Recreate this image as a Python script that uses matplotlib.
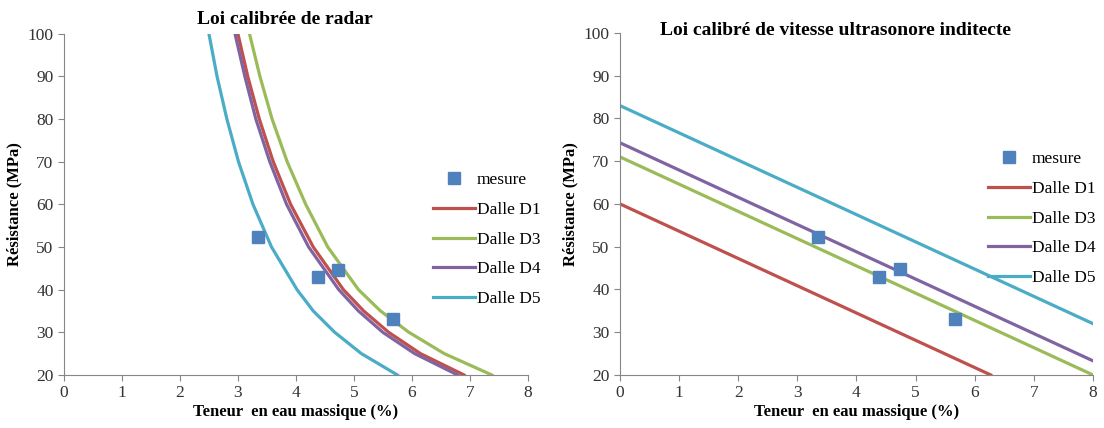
import matplotlib.pyplot as plt

plt.rcParams['font.family'] = ['Liberation Serif', 'DejaVu Serif']

# measurements (water content %, strength MPa)
mes_w = [3.35, 4.38, 4.73, 5.67]
mes_r = [52.3, 43.0, 44.7, 33.0]

# radar law: strength levels and water content per slab
radar_r = [100, 90, 80, 70, 60, 50, 40, 35, 30, 25, 20]
radar_d1 = [3.00, 3.17, 3.37, 3.61, 3.91, 4.30, 4.82, 5.17, 5.60, 6.15, 6.90]
radar_d3 = [3.20, 3.38, 3.59, 3.85, 4.17, 4.55, 5.08, 5.46, 5.95, 6.56, 7.38]
radar_d4 = [2.95, 3.12, 3.31, 3.55, 3.84, 4.22, 4.74, 5.08, 5.50, 6.05, 6.79]
radar_d5 = [2.50, 2.64, 2.81, 3.01, 3.26, 3.58, 4.02, 4.30, 4.67, 5.13, 5.75]

# ultrasonic law: straight lines (w, R)
us_d1_w = [0, 6.27]
us_d1_r = [60.0, 20.0]
us_w = [0, 8]
us_d3 = [71.0, 20.0]
us_d4 = [74.3, 23.3]
us_d5 = [83.0, 32.0]

colors = {'D1': '#C0504D', 'D3': '#9BBB59', 'D4': '#8064A2', 'D5': '#4BACC6'}
blue = '#4F81BD'

fig = plt.figure(figsize=(11.04, 4.28), dpi=100)
ax1 = fig.add_axes([0.058, 0.124, 0.420, 0.797])
ax2 = fig.add_axes([0.5616, 0.124, 0.4284, 0.799])


def style(ax):
    ax.set_xlim(0, 8)
    ax.set_ylim(20, 100)
    ax.set_xticks(range(0, 9))
    ax.set_yticks(range(20, 101, 10))
    for s in ['top', 'right']:
        ax.spines[s].set_visible(False)
    for s in ['left', 'bottom']:
        ax.spines[s].set_color('#868686')
        ax.spines[s].set_linewidth(0.8)
    ax.tick_params(axis='both', labelsize=12.5, color='#868686', length=4,
                   labelcolor='#333333')
    ax.set_xlabel('Teneur  en eau massique (%)', fontsize=12, fontweight='bold',
                  labelpad=2)
    ax.set_ylabel('Résistance (MPa)', fontsize=12, fontweight='bold', labelpad=4)


lw = 2.3
ax1.plot(radar_d1, radar_r, color=colors['D1'], lw=lw, label='Dalle D1')
ax1.plot(radar_d3, radar_r, color=colors['D3'], lw=lw, label='Dalle D3')
ax1.plot(radar_d4, radar_r, color=colors['D4'], lw=lw, label='Dalle D4')
ax1.plot(radar_d5, radar_r, color=colors['D5'], lw=lw, label='Dalle D5')
ax1.plot(mes_w, mes_r, 's', color=blue, ms=8, zorder=5, label='mesure')
style(ax1)

ax2.plot(us_d1_w, us_d1_r, color=colors['D1'], lw=lw, label='Dalle D1')
ax2.plot(us_w, us_d3, color=colors['D3'], lw=lw, label='Dalle D3')
ax2.plot(us_w, us_d4, color=colors['D4'], lw=lw, label='Dalle D4')
ax2.plot(us_w, us_d5, color=colors['D5'], lw=lw, label='Dalle D5')
ax2.plot(mes_w, mes_r, 's', color=blue, ms=8, zorder=5, label='mesure')
style(ax2)

for ax, anchor in [(ax1, (0.778, 0.62)), (ax2, (0.76, 0.68))]:
    h, l = ax.get_legend_handles_labels()
    order = [4, 0, 1, 2, 3]
    ax.legend([h[i] for i in order], [l[i] for i in order], loc='upper left',
              bbox_to_anchor=anchor, frameon=False, fontsize=12.5,
              handlelength=2.4, handletextpad=0.1, labelspacing=0.78,
              borderpad=0)

fig.text(0.258, 0.955, 'Loi calibrée de radar', fontsize=14, fontweight='bold',
         ha='center', va='center')
fig.text(0.757, 0.928, 'Loi calibré de vitesse ultrasonore inditecte',
         fontsize=14, fontweight='bold', ha='center', va='center')

fig.savefig('out.png', dpi=100)
